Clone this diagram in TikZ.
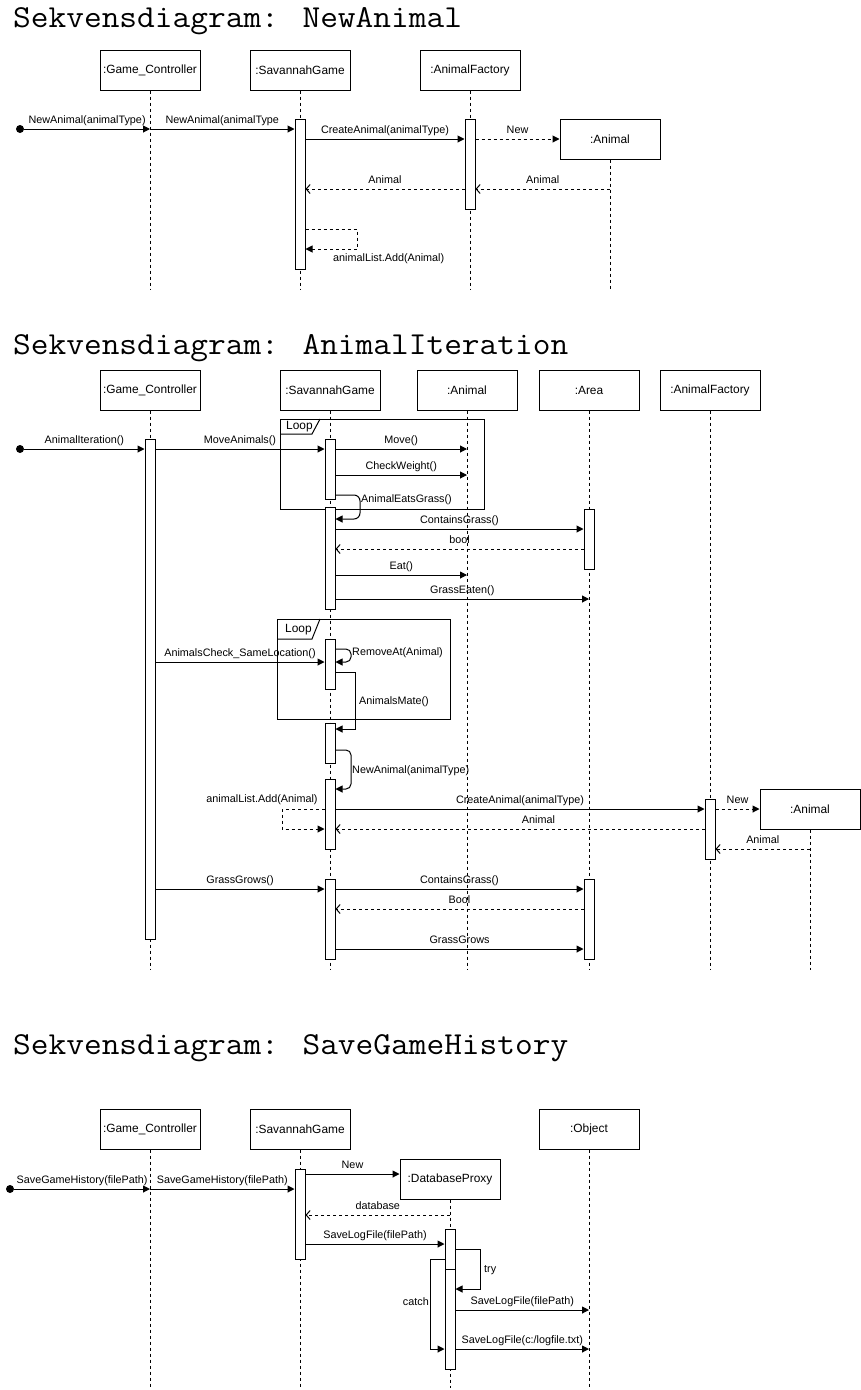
\documentclass[tikz,border=0pt]{standalone}
\usepackage{fontspec}
\setmainfont{Liberation Sans}
\usetikzlibrary{arrows.meta}
\usetikzlibrary{calc}

\begin{document}
\begin{tikzpicture}[x=1pt, y=-1pt]
        % ================= styles =================
        \tikzset{
            % object box on top of a lifeline
            obj/.style={rectangle, draw=black, line width=1pt, fill=white, minimum width=100pt, minimum height=40pt, inner sep=0pt, font=\fontsize{11.9}{14}\selectfont},
            % activation bar
            act/.style={rectangle, draw=black, line width=1pt, fill=white, minimum width=10pt, inner sep=0pt},
            % dashed lifeline
            life/.style={line width=1pt, dash pattern=on 3pt off 3pt},
            % synchronous call, dashed create, return
            call/.style={line width=1pt, -{Triangle[length=7pt,width=7pt]}},
            dcall/.style={call, dash pattern=on 3pt off 3pt},
            ret/.style={line width=1pt, dash pattern=on 3pt off 3pt, -{Straight Barb[length=4pt,width=9pt]}},
            % message text
            lbl/.style={font=\fontsize{10.8}{13}\selectfont, inner xsep=1pt, inner ysep=3pt, text height=7.9pt, text depth=2.3pt},
            % loop frame and its tab text
            loopframe/.style={draw=black, line width=1pt},
            looptext/.style={font=\fontsize{11.9}{14}\selectfont, anchor=west, inner sep=0pt},
            % found message dot
            startdot/.style={circle, fill=black, minimum size=8pt, inner sep=0pt},
            heading/.style={font=\ttfamily\fontsize{32}{34}\selectfont, anchor=base west, inner sep=0pt}
        }
        \newcommand{\headtext}[1]{\scalebox{1.075}[1]{#1}}
        \useasboundingbox (0,0) rectangle (861,1390);

        % ================= Sekvensdiagram: NewAnimal =================
        \node[heading] (t1) at (13,27) {\headtext{Sekvensdiagram: NewAnimal}};
        \node[obj] (gc1) at (150,70) {:Game\_Controller};
        \node[obj] (sg1) at (300,70) {:SavannahGame};
        \node[obj] (af1) at (470,70) {:AnimalFactory};
        \node[obj] (an1) at (610,139) {:Animal};
        \foreach \o in {gc1, sg1, af1, an1}
            \draw[life] (\o.south) -- (\o |- 0,290);

        \node[act, minimum height=150pt] (sg1a) at (300,194) {};
        \node[act, minimum height=90pt] (af1a) at (470,164) {};
        \node[startdot] (s1) at (20,129) {};

        \draw[call] (s1) -- (gc1 |- s1) node[lbl, midway, above] {NewAnimal(animalType)};
        \draw[call] (gc1 |- s1) -- (sg1a.west |- s1) node[lbl, midway, above] {NewAnimal(animalType};
        \draw[call] (sg1a.east |- an1) -- (af1a.west |- an1) node[lbl, midway, above] {CreateAnimal(animalType)};
        \draw[dcall] (af1a.east |- an1) -- (an1.west) node[lbl, midway, above] {New};
        \draw[ret] (an1 |- 0,189) -- (af1a.east |- 0,189) node[lbl, midway, above] {Animal};
        \draw[ret] (af1a.west |- 0,189) -- (sg1a.east |- 0,189) node[lbl, midway, above] {Animal};
        % self call
        \draw[dcall] (sg1a.east |- 0,229) -| (357,249) -- (sg1a.east |- 0,249);
        \node[lbl, anchor=west] (add1) at (332,259) {animalList.Add(Animal)};

        % ================= Sekvensdiagram: AnimalIteration =================
        \node[heading] (t2) at (13,354) {\headtext{Sekvensdiagram: AnimalIteration}};
        \node[obj] (gc2) at (150,390) {:Game\_Controller};
        \node[obj] (sg2) at (330,390) {:SavannahGame};
        \node[obj] (an2) at (467,390) {:Animal};
        \node[obj] (ar2) at (589,390) {:Area};
        \node[obj] (af2) at (710,390) {:AnimalFactory};
        \node[obj] (an3) at (810,809) {:Animal};
        \foreach \o in {gc2, sg2, an2, ar2, af2, an3}
            \draw[life] (\o.south) -- (\o |- 0,970);

        % loop frames
        \draw[loopframe] (280,419) rectangle (484,509);
        \draw[loopframe] (280,434) -- (312,434) -- (320,419);
        \node[looptext] (lp1) at (286,427) {Loop};
        \draw[loopframe] (277,619) rectangle (450,719);
        \draw[loopframe] (277,639) -- (312,639) -- (320,619);
        \node[looptext] (lp2) at (285,630) {Loop};

        \node[act, minimum height=500pt] (gc2a) at (150,689) {};
        \node[act, minimum height=60pt] (sg2a) at (330,469) {};
        \node[act, minimum height=102pt] (sg2b) at (330,558) {};
        \node[act, minimum height=60pt] (ar2a) at (589,539) {};
        \node[act, minimum height=50pt] (sg2c) at (330,664) {};
        \node[act, minimum height=40pt] (sg2d) at (330,743) {};
        \node[act, minimum height=70pt] (sg2e) at (330,814) {};
        \node[act, minimum height=60pt] (af2a) at (710,829) {};
        \node[act, minimum height=80pt] (sg2f) at (330,919) {};
        \node[act, minimum height=80pt] (ar2b) at (589,919) {};
        \node[startdot] (s2) at (20,449) {};

        \draw[call] (s2) -- (gc2a.west |- s2) node[lbl, midway, above] {AnimalIteration()};
        \draw[call] (gc2a.east |- s2) -- (sg2a.west |- s2) node[lbl, midway, above] {MoveAnimals()};
        \draw[call] (sg2a.east |- s2) -- (an2 |- s2) node[lbl, midway, above] {Move()};
        \draw[call] (sg2a.east |- 0,475) -- (an2 |- 0,475) node[lbl, midway, above] {CheckWeight()};
        \draw[call, rounded corners=6pt] (sg2a.east |- 0,495) -| (360,519) -- (sg2b.east |- 0,519);
        \node[lbl, anchor=west] (eg2) at (360,500) {AnimalEatsGrass()};
        \draw[call] (sg2b.east |- 0,529) -- (ar2a.west |- 0,529) node[lbl, midway, above] {ContainsGrass()};
        \draw[ret] (ar2a.west |- 0,549) -- (sg2b.east |- 0,549) node[lbl, midway, above] {bool};
        \draw[call] (sg2b.east |- 0,575) -- (an2 |- 0,575) node[lbl, midway, above] {Eat()};
        \draw[call] (sg2b.east |- 0,599) -- (ar2 |- 0,599) node[lbl, midway, above] {GrassEaten()};

        \draw[call] (gc2a.east |- 0,662) -- (sg2c.west |- 0,662) node[lbl, midway, above] {AnimalsCheck\_SameLocation()};
        \draw[call, rounded corners=5pt] (sg2c.east |- 0,649) -| (351,662) -- (sg2c.east |- 0,662);
        \node[lbl, anchor=west] (rm2) at (351,653) {RemoveAt(Animal)};
        \draw[call] (sg2c.east |- 0,672) -| (355,729) -- (sg2d.east |- 0,729);
        \node[lbl, anchor=west] (mt2) at (358,702) {AnimalsMate()};
        \draw[call, rounded corners=5pt] (sg2d.east |- 0,750) -| (351,789) -- (sg2e.east |- 0,789);
        \node[lbl, anchor=west] (na2) at (351,771) {NewAnimal(animalType)};

        \draw[dcall] (sg2e.west |- an3) -| (282,829) -- (sg2e.west |- 0,829);
        \node[lbl] (add2) at (262,800) {animalList.Add(Animal)};
        \draw[call] (sg2e.east |- an3) -- (af2a.west |- an3) node[lbl, midway, above] {CreateAnimal(animalType)};
        \draw[dcall] (af2a.east |- an3) -- (an3.west) node[lbl, midway, above] {New};
        \draw[ret] (an3 |- 0,849) -- (af2a.east |- 0,849) node[lbl, midway, above] {Animal};
        \draw[ret] (af2a.west |- 0,829) -- (sg2e.east |- 0,829) node[lbl, pos=0.45, above] {Animal};

        \draw[call] (gc2a.east |- 0,889) -- (sg2f.west |- 0,889) node[lbl, midway, above] {GrassGrows()};
        \draw[call] (sg2f.east |- 0,889) -- (ar2b.west |- 0,889) node[lbl, midway, above] {ContainsGrass()};
        \draw[ret] (ar2b.west |- 0,909) -- (sg2f.east |- 0,909) node[lbl, midway, above] {Bool};
        \draw[call] (sg2f.east |- 0,949) -- (ar2b.west |- 0,949) node[lbl, midway, above] {GrassGrows};

        % ================= Sekvensdiagram: SaveGameHistory =================
        \node[heading] (t3) at (13,1054) {\headtext{Sekvensdiagram: SaveGameHistory}};
        \node[obj] (gc3) at (150,1129) {:Game\_Controller};
        \node[obj] (sg3) at (300,1129) {:SavannahGame};
        \node[obj] (ob3) at (589,1129) {:Object};
        \node[obj] (dp3) at (450,1179) {:DatabaseProxy};
        \foreach \o in {gc3, sg3, ob3, dp3}
            \draw[life] (\o.south) -- (\o |- 0,1388);

        \node[act, minimum height=90pt] (sg3a) at (300,1214) {};
        \node[act, minimum height=100pt] (dp3a) at (450,1279) {};
        \node[act, minimum height=100pt] (dp3b) at (450,1319) {};
        \node[startdot] (s3) at (10,1189) {};

        \draw[call] (s3) -- (gc3 |- s3) node[lbl, midway, above] {SaveGameHistory(filePath)};
        \draw[call] (gc3 |- s3) -- (sg3a.west |- s3) node[lbl, midway, above] {SaveGameHistory(filePath)};
        \draw[call] (sg3a.east |- 0,1174) -- (dp3.west |- 0,1174) node[lbl, midway, above] {New};
        \draw[ret] (dp3 |- 0,1215) -- (sg3a.east |- 0,1215) node[lbl, midway, above] {database};
        \draw[call] (sg3a.east |- 0,1244) -- (dp3a.west |- 0,1244) node[lbl, midway, above] {SaveLogFile(filePath)};
        % try / catch
        \draw[call] (dp3a.east |- 0,1249) -| (480,1289) -- (dp3b.east |- 0,1289);
        \node[lbl, anchor=west] (try3) at (483,1270) {try};
        \draw[call] (dp3a.west |- 0,1259) -| (430,1349) -- (dp3b.west |- 0,1349);
        \node[lbl, anchor=east] (catch3) at (430,1303) {catch};
        \draw[call] (dp3b.east |- 0,1310) -- (ob3 |- 0,1310) node[lbl, midway, above] {SaveLogFile(filePath)};
        \draw[call] (dp3b.east |- 0,1349) -- (ob3 |- 0,1349) node[lbl, midway, above] {SaveLogFile(c:/logfile.txt)};

\end{tikzpicture}
\end{document}
